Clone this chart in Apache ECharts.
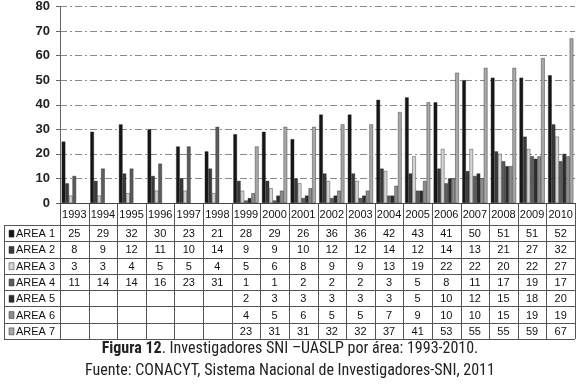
<!DOCTYPE html>
<html>
<head>
<meta charset="utf-8">
<script src="https://cdn.jsdelivr.net/npm/echarts@6/dist/echarts.min.js"></script>
<style>
html,body{margin:0;padding:0;background:#fff;}
#chart{width:580px;height:385px;}
</style>
</head>
<body>
<div id="chart"></div>
<script>
// años
var years = ['1993','1994','1995','1996','1997','1998','1999','2000','2001','2002','2003','2004','2005','2006','2007','2008','2009','2010'];
// investigadores por área
var area1 = [25,29,32,30,23,21,28,29,26,36,36,42,43,41,50,51,51,52];
var area2 = [8,9,12,11,10,14,9,9,10,12,12,14,12,14,13,21,27,32];
var area3 = [3,3,4,5,5,4,5,6,8,9,9,13,19,22,22,20,22,27];
var area4 = [11,14,14,16,23,31,1,1,2,2,2,3,5,8,11,17,19,17];
var area5 = [null,null,null,null,null,null,2,3,3,3,3,3,5,10,12,15,18,20];
var area6 = [null,null,null,null,null,null,4,5,6,5,5,7,9,10,10,15,19,19];
var area7 = [null,null,null,null,null,null,23,31,31,32,32,37,41,53,55,55,59,67];
var areaNames = ['AREA 1','AREA 2','AREA 3','AREA 4','AREA 5','AREA 6','AREA 7'];
var yTicks = {min: 0, max: 80, interval: 10};

var areas = [area1, area2, area3, area4, area5, area6, area7];
var colores = ['#161616','#3a3a3a','#d4d4d4','#5c5c5c','#2b2b2b','#8c8c8c','#a8a8a8'];

var chart = echarts.init(document.getElementById('chart'));

// geometría de la tabla
var gLeft = 60, gRight = 575, gTop = 6, gZero = 203;
var colW = (gRight - gLeft) / years.length;
var headBottom = 225, tBottom = 339;
var rowH = (tBottom - headBottom) / areas.length;
var tLeft = 4;
var lineCol = '#555';
var txtFont = 'Arial, "Liberation Sans", sans-serif';
var capFont = '"Liberation Sans Narrow", "Roboto Condensed", "DejaVu Sans Condensed", sans-serif';

var graphics = [];
function hline(y, x1, x2) {
	graphics.push({type:'line', shape:{x1:x1, y1:y, x2:x2, y2:y}, style:{stroke:lineCol, lineWidth:1}, silent:true});
}
function vline(x, y1, y2) {
	graphics.push({type:'line', shape:{x1:x, y1:y1, x2:x, y2:y2}, style:{stroke:lineCol, lineWidth:1}, silent:true});
}
function texto(x, y, t, align) {
	graphics.push({type:'text', x:x, y:y, style:{text:t, fill:'#111', font:'11px ' + txtFont, textAlign:align || 'center', textVerticalAlign:'middle'}, silent:true});
}

// líneas horizontales
for (var r = 0; r <= areas.length; r++) {
	hline(Math.round(headBottom + r * rowH) + 0.5, tLeft, gRight);
}
// líneas verticales
vline(tLeft + 0.5, headBottom, tBottom);
for (var c = 0; c <= years.length; c++) {
	vline(Math.round(gLeft + c * colW) + 0.5, gZero, tBottom);
}
// años
for (var c = 0; c < years.length; c++) {
	texto(gLeft + (c + 0.5) * colW, (gZero + headBottom) / 2 + 1, years[c]);
}
// filas
for (var r = 0; r < areas.length; r++) {
	var cy = headBottom + (r + 0.5) * rowH + 1;
	graphics.push({type:'rect', shape:{x:9, y:cy - 4, width:5, height:7}, style:{fill:colores[r], stroke:'#333', lineWidth:0.5}, silent:true});
	texto(16, cy, areaNames[r], 'left');
	for (var c = 0; c < years.length; c++) {
		var v = areas[r][c];
		if (v != null) texto(gLeft + (c + 0.5) * colW, cy, String(v));
	}
}
// pie de figura
graphics.push({type:'text', left:'center', top:341, style:{
	rich:{b:{font:'bold 16px ' + capFont, fill:'#222'},
		n:{font:'16px ' + capFont, fill:'#222'}},
	text:'{b|Figura 12}{n|. Investigadores SNI –UASLP por área: 1993-2010.}'}, silent:true});
graphics.push({type:'text', left:'center', top:363, style:{
	text:'Fuente: CONACYT, Sistema Nacional de Investigadores-SNI, 2011',
	font:'16px ' + capFont, fill:'#222'}, silent:true});

var series = [];
for (var i = 0; i < areas.length; i++) {
	series.push({
		name: areaNames[i],
		type: 'bar',
		data: areas[i],
		barGap: '0%',
		barCategoryGap: '12%',
		itemStyle: {color: colores[i], borderColor: '#222', borderWidth: 0.4},
		emphasis: {disabled: true}
	});
}

chart.setOption({
	animation: false,
	grid: {left: gLeft, right: 580 - gRight, top: gTop, bottom: 385 - gZero},
	xAxis: [{
		type: 'category',
		data: years,
		axisLine: {lineStyle: {color: '#444'}},
		axisTick: {show: false},
		axisLabel: {show: false}
	}],
	yAxis: [{
		type: 'value',
		min: yTicks.min,
		max: yTicks.max,
		interval: yTicks.interval,
		axisLine: {show: true, lineStyle: {color: '#666'}},
		axisTick: {show: true, length: 4, lineStyle: {color: '#666'}},
		axisLabel: {margin: 10, color: '#222', fontWeight: 'bold', fontSize: 13, fontFamily: txtFont},
		splitLine: {show: true, lineStyle: {color: '#8a8a8a', type: [7, 3, 2, 3], width: 1}}
	}],
	series: series,
	graphic: graphics
});
</script>
</body>
</html>
